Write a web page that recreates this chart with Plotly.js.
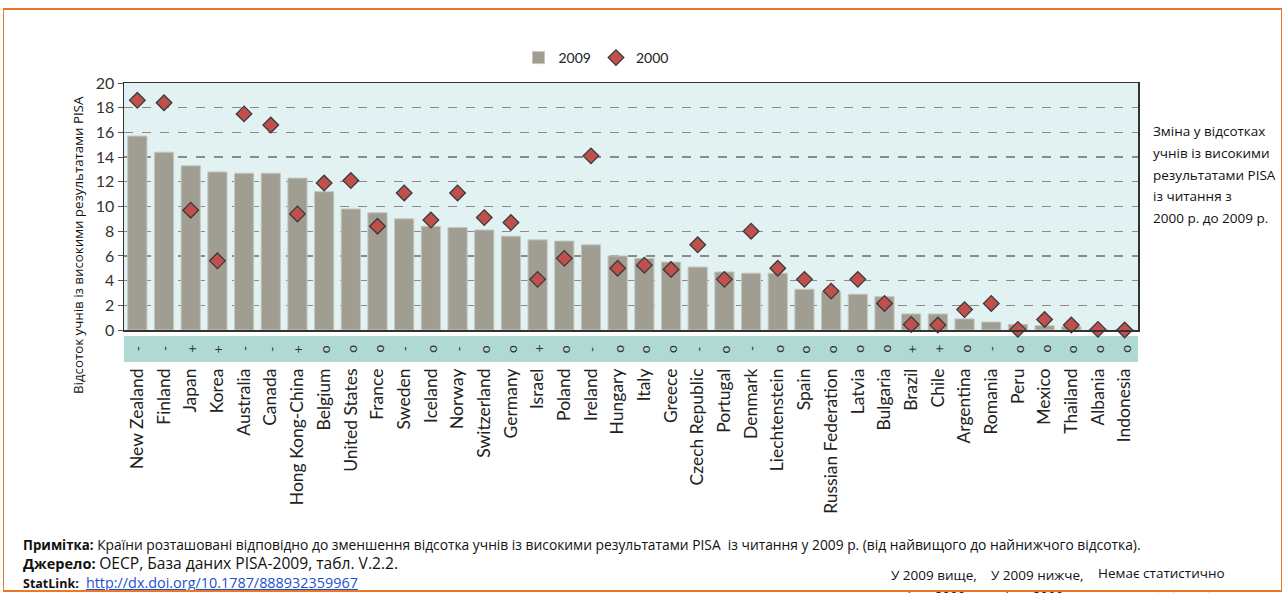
<!DOCTYPE html>
<html>
<head>
<meta charset="utf-8">
<script src="https://cdn.plot.ly/plotly-3.0.1.min.js"></script>
<style>
html,body{margin:0;padding:0;background:#fff;}
#wrap{position:relative;width:1286px;height:593px;overflow:hidden;}
#chart{width:1286px;height:593px;}
#frame{position:absolute;left:3px;top:8px;width:1277px;height:580px;border-left:1.5px solid #E8792B;border-right:1.5px solid #E8792B;border-top:2.5px solid #E8792B;border-bottom:2.5px solid #E8792B;pointer-events:none;}
</style>
</head>
<body>
<div id="wrap">
<div id="chart"></div>
<div id="frame"></div>
</div>
<script>
const countries = ["New Zealand","Finland","Japan","Korea","Australia","Canada","Hong Kong-China","Belgium","United States","France","Sweden","Iceland","Norway","Switzerland","Germany","Israel","Poland","Ireland","Hungary","Italy","Greece","Czech Republic","Portugal","Denmark","Liechtenstein","Spain","Russian Federation","Latvia","Bulgaria","Brazil","Chile","Argentina","Romania","Peru","Mexico","Thailand","Albania","Indonesia"];
const values2009 = [15.7,14.4,13.3,12.8,12.7,12.7,12.3,11.2,9.8,9.5,9.0,8.4,8.3,8.1,7.6,7.3,7.2,6.9,6.0,5.8,5.5,5.1,4.7,4.6,4.6,3.3,3.1,2.9,2.7,1.3,1.3,0.9,0.65,0.45,0.35,0.27,0.05,0.02];
const values2000 = [18.6,18.4,9.7,5.6,17.5,16.6,9.4,11.9,12.1,8.4,11.1,8.9,11.1,9.1,8.7,4.1,5.8,14.1,5.0,5.25,4.9,6.9,4.1,8.0,5.0,4.1,3.15,4.1,2.15,0.45,0.4,1.65,2.15,0.05,0.85,0.4,0.05,0.0];
const changeSigns = ["-","-","+","+","-","-","+","o","o","o","-","o","-","o","o","+","o","-","o","o","o","-","o","-","o","o","o","o","o","+","+","o","-","o","o","o","o","o"];
const yTitle = "Відсоток учнів із високими результатами PISA";
const sideNote = ["Зміна у відсотках","учнів із високими","результатами PISA","із читання з","2000 р. до 2009 р."];

// plot area pixel geometry helpers (for annotation placement)
const L = 124, R = 1138, T = 83, B = 330;
const px = x => (x - L) / (R - L);
const py = y => (B - y) / (B - T);

const traces = [
  {type:"bar", name:"2009", x:countries, y:values2009, width:0.72,
   marker:{color:"#A09E92", line:{color:"#C8C7BD", width:1}}},
  {type:"scatter", mode:"markers", name:"2000", x:countries, y:values2000,
   marker:{symbol:"diamond", size:12, color:"#C0504D", line:{color:"#3A3A3A", width:1.3}}, cliponaxis:false}
];

const ann = [];
changeSigns.forEach((s,i)=>{
  ann.push({x:countries[i], xref:"x", y:py(349), yref:"paper", text:s, showarrow:false,
    textangle:-90, font:{family:"Lato, sans-serif", size:14, color:"#333"}, xanchor:"center", yanchor:"middle"});
});
ann.push({x:px(78), y:py(245), xref:"paper", yref:"paper", text:yTitle, showarrow:false, textangle:-90,
  font:{family:"Open Sans, sans-serif", size:13.3, color:"#111"}, xanchor:"center", yanchor:"middle"});
sideNote.forEach((t,i)=>{
  ann.push({x:px(1151), y:py(131 + i*21.8), xref:"paper", yref:"paper", text:t, showarrow:false,
    font:{family:"Open Sans, sans-serif", size:13.5, color:"#111"}, xanchor:"left", yanchor:"middle"});
});
const noteFont = {family:"Open Sans, sans-serif", size:13.8, color:"#111"};
ann.push({x:px(21), y:py(544), xref:"paper", yref:"paper", showarrow:false, xanchor:"left", yanchor:"middle",
  text:"<b><span style='font-size:13.3px'>Примітка:</span></b> Країни розташовані відповідно до зменшення відсотка учнів із високими результатами PISA  із читання у 2009 р. (від найвищого до найнижчого відсотка).", font:noteFont});
ann.push({x:px(21), y:py(563), xref:"paper", yref:"paper", showarrow:false, xanchor:"left", yanchor:"middle",
  text:"<b><span style='font-size:14.5px'>Джерело:</span></b> <span style='font-size:15.6px'>OECP, База даних PISA-2009, табл. V.2.2.</span>", font:{family:"Open Sans, sans-serif", size:14, color:"#111"}});
ann.push({x:px(21), y:py(582), xref:"paper", yref:"paper", showarrow:false, xanchor:"left", yanchor:"middle",
  text:"<b><span style='font-size:12.5px'>StatLink:</span></b>  <span style='color:#1F4FD0;text-decoration:underline;font-size:14.4px'>http://dx.doi.org/10.1787/888932359967</span>", font:noteFont});
const legFont = {family:"Open Sans, sans-serif", size:13.5, color:"#111"};
[["У 2009 вище,",889,575],["У 2009 нижче,",989,575],["Немає статистично",1096,573],
 ["ніж у 2000 р.",897,596],["ніж у 2000 р.",995,596],["значущої різниці",1097,595]].forEach(a=>{
  ann.push({x:px(a[1]), y:py(a[2]), xref:"paper", yref:"paper", showarrow:false, xanchor:"left", yanchor:"middle", text:a[0], font:legFont});
});

const layout = {
  width:1286, height:593,
  margin:{l:L, r:1286-R, t:T, b:593-B},
  paper_bgcolor:"#fff", plot_bgcolor:"#E2F1F1",
  font:{family:"Lato, sans-serif", color:"#222"},
  showlegend:true,
  legend:{orientation:"h", x:px(596), xanchor:"center", y:py(58), yanchor:"middle",
    font:{family:"Lato, sans-serif", size:14, color:"#222"}, bgcolor:"rgba(0,0,0,0)", traceorder:"normal"},
  bargap:0.28,
  xaxis:{type:"category", range:[-0.5, countries.length-0.5], tickangle:-90, ticks:"",
    tickfont:{family:"Lato, sans-serif", size:17.5, color:"#222"}, ticklabelstandoff:30,
    showline:true, linecolor:"#333", linewidth:1.5, mirror:true, showgrid:false, fixedrange:true},
  yaxis:{range:[0,20], dtick:2, tick0:0, ticks:"outside", ticklen:5, tickcolor:"#555",
    tickfont:{family:"Lato, sans-serif", size:16, color:"#333"},
    showgrid:true, gridcolor:"#8A8A8A", griddash:"dash", gridwidth:1.3,
    showline:true, linecolor:"#333", linewidth:1.5, mirror:true, zeroline:false, fixedrange:true},
  shapes:[{type:"rect", xref:"paper", yref:"paper", x0:0, x1:1, y0:py(362), y1:py(336),
    fillcolor:"#B0D9D3", line:{width:0}, layer:"below"}],
  annotations:ann
};
Plotly.newPlot("chart", traces, layout, {displayModeBar:false, staticPlot:true});
</script>
</body>
</html>
